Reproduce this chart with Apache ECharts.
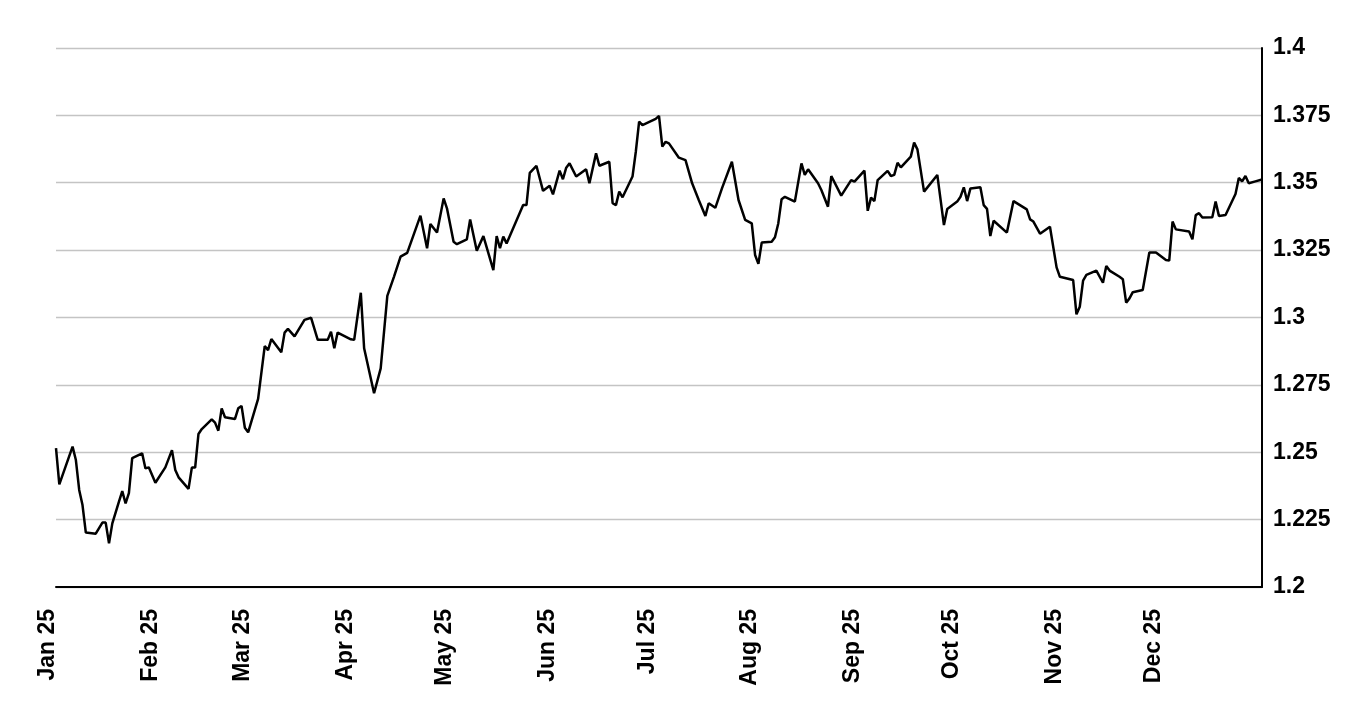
<!DOCTYPE html>
<html>
<head>
<meta charset="utf-8">
<script src="https://cdn.jsdelivr.net/npm/echarts@6/dist/echarts.min.js"></script>
<style>
html,body{margin:0;padding:0;background:#fff;}
#chart{width:1366px;height:723px;}
</style>
</head>
<body>
<div id="chart"></div>
<script>
// Day of year 2025 (0 = 1 Jan) for each observation
const dayOfYear = [
  0,1,5,6,7,8,9,12,14,15,
  16,17,19,20,21,22,23,26,27,28,
  30,33,35,36,37,40,41,42,43,44,
  47,48,49,50,51,54,55,56,57,58,
  61,63,64,65,68,69,70,72,75,77,
  79,82,83,84,85,89,90,92,93,96,
  98,100,102,104,106,110,112,113,115,117,
  118,120,121,124,125,127,129,132,133,134,
  135,136,141,142,143,145,147,149,150,152,
  153,154,155,157,160,161,163,164,167,168,
  169,170,171,174,175,176,177,181,182,183,
  184,185,188,190,192,194,196,197,199,201,
  204,206,208,210,211,212,213,216,217,218,
  219,220,223,225,226,227,230,231,233,234,
  237,240,241,244,245,246,247,248,251,252,
  253,254,255,258,259,260,262,266,268,269,
  272,273,274,275,276,279,280,281,282,283,
  287,289,293,294,295,297,300,302,303,307,
  308,309,310,311,314,316,317,318,321,322,
  323,324,325,328,330,332,335,336,337,338,
  342,343,344,345,346,349,350,351,353,356,
  357,358,359,360,362,364
];
const rates = [
  1.2515,1.2381,1.2521,1.2471,1.236,1.2304,1.2202,1.2198,1.2239,1.2239,
  1.2162,1.2236,1.2317,1.2356,1.231,1.2348,1.2478,1.2496,1.244,1.2444,
  1.2387,1.2444,1.2508,1.2434,1.2407,1.2364,1.2443,1.2443,1.2568,1.2586,
  1.2622,1.261,1.258,1.2663,1.263,1.2623,1.2663,1.2672,1.2591,1.2574,
  1.2698,1.2894,1.2879,1.292,1.2871,1.2944,1.2958,1.293,1.2991,1.2999,
  1.2917,1.2917,1.2947,1.2886,1.2944,1.2919,1.2917,1.3092,1.2886,1.2719,
  1.2811,1.308,1.3151,1.3226,1.324,1.3378,1.3257,1.3347,1.3315,1.3442,
  1.3405,1.3281,1.3272,1.329,1.3364,1.3248,1.3302,1.3176,1.3302,1.3257,
  1.33,1.3275,1.3417,1.3417,1.3537,1.3563,1.347,1.3489,1.3457,1.3545,
  1.3513,1.3556,1.3572,1.3523,1.355,1.3498,1.3609,1.3563,1.3578,1.3424,
  1.3417,1.3467,1.3446,1.3523,1.3615,1.3727,1.3714,1.3737,1.3748,1.3634,
  1.3652,1.3646,1.3593,1.3584,1.3498,1.3436,1.3377,1.3424,1.3407,1.3479,
  1.3578,1.3436,1.3362,1.3349,1.3232,1.3199,1.3278,1.3281,1.3298,1.3349,
  1.3439,1.3448,1.343,1.3572,1.3529,1.355,1.3498,1.3473,1.3411,1.3525,
  1.3452,1.351,1.3504,1.3545,1.3396,1.3445,1.3432,1.351,1.3544,1.3525,
  1.3529,1.3574,1.3557,1.3597,1.3649,1.3624,1.3467,1.3529,1.3343,1.3403,
  1.343,1.3448,1.3483,1.3432,1.3479,1.3483,1.3417,1.3403,1.3302,1.3359,
  1.3315,1.3432,1.3401,1.3364,1.3356,1.3311,1.3337,1.3186,1.3151,1.3139,
  1.3012,1.304,1.3137,1.3158,1.3174,1.3129,1.3191,1.3174,1.3151,1.3142,
  1.3055,1.3071,1.3094,1.3102,1.3241,1.3241,1.3213,1.3211,1.3356,1.3327,
  1.3319,1.329,1.338,1.3387,1.3371,1.3372,1.343,1.3377,1.338,1.3458,
  1.3518,1.3505,1.3525,1.3498,1.3505,1.3512
];
// Month starts (day of year) and their labels
const monthStartDays = [0,31,59,90,120,151,181,212,243,273,304,334];
const monthLabels = ['Jan 25','Feb 25','Mar 25','Apr 25','May 25','Jun 25',
  'Jul 25','Aug 25','Sep 25','Oct 25','Nov 25','Dec 25'];
const yMin = 1.2, yMax = 1.4, yStep = 0.025;

const seriesData = dayOfYear.map((d,i) => [d, rates[i]]);

const chart = echarts.init(document.getElementById('chart'), null, {renderer:'canvas'});
chart.setOption({
  animation: false,
  backgroundColor: '#ffffff',
  grid: {left: 56, right: 104, top: 48, bottom: 136, containLabel: false},
  xAxis: {
    type: 'value',
    min: 0,
    max: 364,
    axisLine: {show: true, onZero: false, lineStyle: {color: '#000', width: 2}},
    axisTick: {show: false},
    splitLine: {show: false},
    axisLabel: {
      customValues: monthStartDays,
      rotate: 90,
      margin: 22,
      verticalAlign: 'bottom',
      lineHeight: 17,
      color: '#000',
      fontFamily: 'Liberation Sans',
      fontWeight: 'bold',
      fontSize: 23,
      formatter: function (v) {
        const i = monthStartDays.indexOf(Math.round(v));
        return i >= 0 ? monthLabels[i] : '';
      }
    }
  },
  yAxis: {
    type: 'value',
    position: 'right',
    min: yMin, max: yMax, interval: yStep,
    axisLine: {show: true, onZero: false, lineStyle: {color: '#000', width: 2}},
    axisTick: {show: false},
    splitLine: {show: true, lineStyle: {color: '#c4c4c4', width: 1.3}},
    axisLabel: {
      margin: 11,
      color: '#000',
      fontFamily: 'Liberation Sans',
      fontWeight: 'bold',
      fontSize: 23,
      formatter: v => String(parseFloat(v.toFixed(3)))
    }
  },
  series: [{
    type: 'line',
    data: seriesData,
    showSymbol: false,
    symbol: 'none',
    lineStyle: {color: '#000', width: 2.5},
    z: 5
  }]
});
</script>
</body>
</html>
